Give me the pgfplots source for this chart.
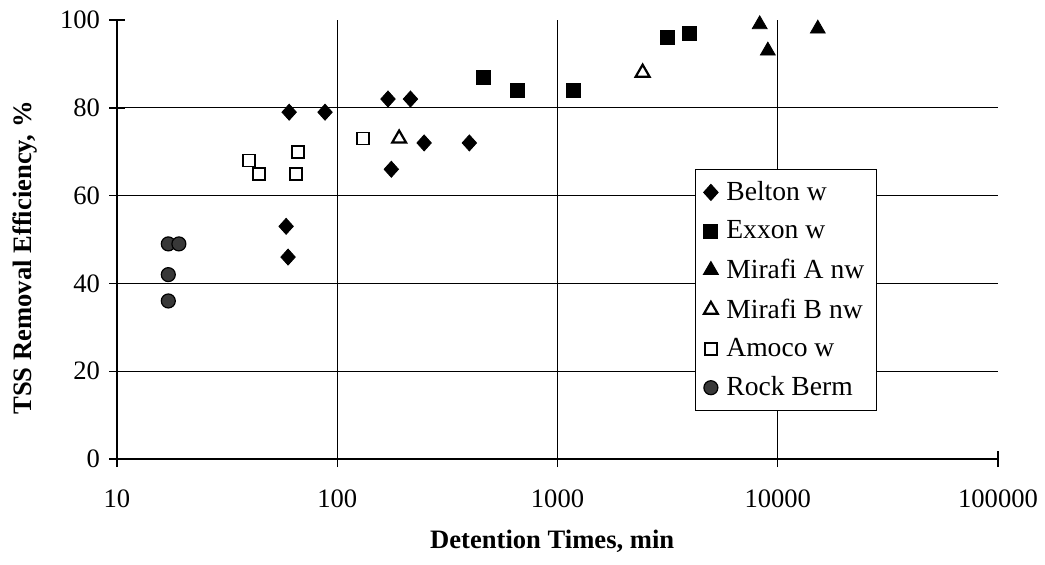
\documentclass[border=0pt]{standalone}
\usepackage{fontspec}
\setmainfont{Liberation Serif}
\usepackage{pgfplots}
\pgfplotsset{compat=1.18}
\begin{document}
\begin{tikzpicture}
\begin{semilogxaxis}[
  name=ax,
  scale only axis,
  width=440.5pt, height=219.5pt,
  xmin=10, xmax=100000, ymin=0, ymax=100,
  axis x line=bottom, axis y line=left,
  axis line style={-, line width=0.8pt},
  xtick={10,100,1000,10000,100000},
  xticklabels={10,100,1000,10000,100000},
  ytick={0,20,40,60,80,100},
  xminorticks=false,
  tick align=center,
  major tick length=8pt,
  tick style={line width=0.7pt, black},
  extra x ticks={100,1000,10000},
  extra x tick labels={},
  extra x tick style={grid=major, major tick length=0pt},
  extra y ticks={20,40,60,80},
  extra y tick labels={},
  extra y tick style={grid=major, major tick length=0pt},
  grid style={black, line width=0.6pt},
  /pgf/number format/assume math mode=true,
  ticklabel style={font=\fontsize{13.3}{15}\selectfont},
  yticklabel style={xshift=-1pt},
  xticklabel style={yshift=-8pt},
  xlabel={\bfseries Detention Times, min},
  ylabel={\bfseries TSS Removal Efficiency, \%},
  label style={font=\fontsize{13.3}{16}\selectfont},
  xlabel style={at={(axis description cs:0.494,-0.187)}, anchor=center},
  ylabel style={at={(axis description cs:-0.104,0.458)}, anchor=center},
  legend style={at={(0.656,0.661)}, anchor=north west, draw=black, line width=0.5pt,
    font=\fontsize{13.8}{15}\selectfont, row sep=4.6pt, column sep=2pt,
    inner xsep=4pt, inner ysep=4pt,
    cells={anchor=west}},
  legend cell align=left,
  clip=false,
]
\addplot[only marks, mark=diamond*, mark size=4pt, mark options={fill=black, draw=black, xscale=1.2}]
  coordinates {(60.5,79) (88,79) (170,82) (215,82) (248,72) (176,66) (58.6,53) (59.8,46) (398,72)};
\addlegendentry{Belton w}
\addplot[only marks, mark=square*, mark size=3.5pt, mark options={fill=black, draw=black}]
  coordinates {(461,87) (658,84) (1183,84) (3162,96) (3981,97)};
\addlegendentry{Exxon w}
\addplot[only marks, mark=triangle*, mark size=4.3pt, mark options={fill=black, draw=black}]
  coordinates {(8280,99) (9016,93) (15200,98)};
\addlegendentry{Mirafi A nw}
\addplot[only marks, mark=triangle, mark size=4pt, mark options={draw=black, line width=1.1pt}]
  coordinates {(191,73) (2435,88)};
\addlegendentry{Mirafi B nw}
\addplot[only marks, mark=square, mark size=3pt, mark options={draw=black, line width=0.9pt}]
  coordinates {(39.8,68) (44.2,65) (66.5,70) (65,65) (131,73)};
\addlegendentry{Amoco w}
\addplot[only marks, mark=*, mark size=3.5pt, mark options={fill=black!78, draw=black, line width=0.6pt}]
  coordinates {(17.1,49) (19.1,49) (17.1,42) (17.1,36)};
\addlegendentry{Rock Berm}
\coordinate (BL) at (rel axis cs:0,0);
\coordinate (TR) at (rel axis cs:1,1);
\end{semilogxaxis}
\pgfresetboundingbox
\path ([shift={(-58.5pt,-52.5pt)}]BL) rectangle ([shift={(23.5pt,10pt)}]TR);
\end{tikzpicture}
\end{document}
